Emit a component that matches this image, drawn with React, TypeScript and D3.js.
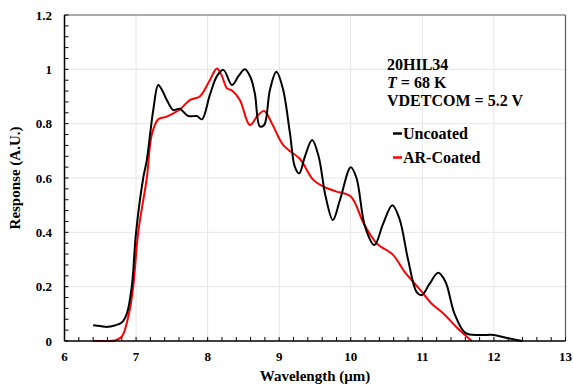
import React from "react";
import * as d3 from "d3";

const xTicks = [6, 7, 8, 9, 10, 11, 12, 13];
const yTicks = [0, 0.2, 0.4, 0.6, 0.8, 1, 1.2];

const uncoated: [number, number][] = [
  [6.4, 0.058], [6.5, 0.055], [6.6, 0.052], [6.7, 0.057], [6.8, 0.068], [6.87, 0.1],
  [6.94, 0.2], [7.0, 0.4], [7.1, 0.6], [7.15, 0.666], [7.24, 0.85], [7.31, 0.942],
  [7.37, 0.92], [7.43, 0.887], [7.52, 0.85], [7.61, 0.855], [7.73, 0.828], [7.85, 0.828],
  [7.92, 0.816], [8.03, 0.905], [8.13, 0.975], [8.22, 0.998], [8.34, 0.942], [8.43, 0.975],
  [8.52, 1.0], [8.6, 0.97], [8.66, 0.91], [8.73, 0.79], [8.79, 0.795], [8.87, 0.924],
  [8.96, 0.991], [9.05, 0.93], [9.15, 0.765], [9.22, 0.64], [9.28, 0.617], [9.36, 0.68],
  [9.46, 0.74], [9.55, 0.68], [9.65, 0.53], [9.75, 0.445], [9.85, 0.52], [10.0, 0.64],
  [10.08, 0.6], [10.2, 0.42], [10.33, 0.353], [10.45, 0.43], [10.58, 0.5], [10.68, 0.45],
  [10.8, 0.3], [10.92, 0.18], [10.99, 0.169], [11.1, 0.21], [11.22, 0.251], [11.32, 0.22],
  [11.45, 0.1], [11.6, 0.03], [11.8, 0.022], [12.0, 0.022], [12.2, 0.01], [12.4, 0.0],
];

const arCoated: [number, number][] = [
  [6.4, 0], [6.6, 0], [6.7, 0.002], [6.8, 0.016], [6.9, 0.1], [6.96, 0.2], [7.03, 0.4],
  [7.15, 0.6], [7.22, 0.76], [7.31, 0.816], [7.43, 0.826], [7.61, 0.852], [7.75, 0.887],
  [7.89, 0.9], [8.03, 0.96], [8.13, 1.003], [8.2, 0.975], [8.27, 0.93], [8.34, 0.922],
  [8.45, 0.887], [8.59, 0.795], [8.7, 0.83], [8.79, 0.847], [8.9, 0.8], [9.06, 0.72],
  [9.29, 0.67], [9.47, 0.595], [9.62, 0.568], [9.8, 0.55], [10.0, 0.532], [10.18, 0.433],
  [10.36, 0.36], [10.59, 0.317], [10.75, 0.255], [10.97, 0.188], [11.12, 0.14],
  [11.29, 0.102], [11.5, 0.045], [11.69, 0.0],
];

const W = 573;
const H = 385;
const M = { left: 64.5, right: 565.5, top: 15, bottom: 341 };
const font = "'Liberation Serif', 'Times New Roman', serif";

export default function App() {
  const x = d3.scaleLinear().domain([6, 13]).range([M.left, M.right]);
  const y = d3.scaleLinear().domain([0, 1.2]).range([M.bottom, M.top]);
  const line = d3
    .line<[number, number]>()
    .x((d) => x(d[0]))
    .y((d) => y(d[1]))
    .curve(d3.curveCatmullRom.alpha(0.5));

  const xMinor = d3.range(6, 13.0001, 0.2);
  const yMinor = d3.range(0, 1.20001, 0.04);

  return (
    <svg
      width={W}
      height={H}
      style={{ position: "absolute", left: 0, top: 0, background: "#fff" }}
      fontFamily={font}
      fontWeight="bold"
    >
      <rect x={0} y={0} width={W} height={H} fill="#fff" />
      {xTicks.slice(1, -1).map((t) => (
        <line key={"gx" + t} x1={x(t)} x2={x(t)} y1={M.top} y2={M.bottom} stroke="#e6e6e6" strokeWidth={1} />
      ))}
      {yTicks.slice(1, -1).map((t) => (
        <line key={"gy" + t} x1={M.left} x2={M.right} y1={y(t)} y2={y(t)} stroke="#e6e6e6" strokeWidth={1} />
      ))}
      <path d={line(arCoated) || ""} fill="none" stroke="#ff0000" strokeWidth={2} />
      <path d={line(uncoated) || ""} fill="none" stroke="#000" strokeWidth={2} />
      {/* frame */}
      <line x1={M.left} x2={M.right} y1={M.top} y2={M.top} stroke="#595959" strokeWidth={1.2} />
      <line x1={M.right} x2={M.right} y1={M.top} y2={M.bottom} stroke="#595959" strokeWidth={1.2} />
      <line x1={M.left} x2={M.right} y1={M.bottom} y2={M.bottom} stroke="#000" strokeWidth={1.5} />
      <line x1={M.left} x2={M.left} y1={M.top} y2={M.bottom} stroke="#000" strokeWidth={1.5} />
      {xMinor.map((t, i) => (
        <line key={"xm" + i} x1={x(t)} x2={x(t)} y1={M.bottom} y2={M.bottom - 4} stroke="#000" strokeWidth={1} />
      ))}
      {yMinor.map((t, i) => (
        <line key={"ym" + i} x1={M.left} x2={M.left + 4} y1={y(t)} y2={y(t)} stroke="#000" strokeWidth={1} />
      ))}
      {xTicks.map((t) => (
        <text key={"xt" + t} x={x(t)} y={361} fontSize={13} textAnchor="middle" fill="#000">
          {t}
        </text>
      ))}
      {yTicks.map((t) => (
        <text key={"yt" + t} x={52} y={y(t) + 4.5} fontSize={13} textAnchor="end" fill="#000">
          {String(t)}
        </text>
      ))}
      <text x={(M.left + M.right) / 2} y={381} fontSize={15} textAnchor="middle" fill="#000">
        Wavelength (μm)
      </text>
      <text
        transform={`translate(20,${(M.top + M.bottom) / 2}) rotate(-90)`}
        fontSize={15}
        textAnchor="middle"
        fill="#000"
      >
        Response (A.U.)
      </text>
      <g fontSize={16} fill="#000">
        <text x={387} y={70}>20HIL34</text>
        <text x={387} y={88}>
          <tspan fontStyle="italic">T</tspan> = 68 K
        </text>
        <text x={387} y={106}>VDETCOM = 5.2 V</text>
      </g>
      <line x1={393} x2={402} y1={133.5} y2={133.5} stroke="#000" strokeWidth={2.5} />
      <text x={403} y={138.5} fontSize={16} fill="#000">Uncoated</text>
      <line x1={393} x2={402} y1={157.5} y2={157.5} stroke="#ff0000" strokeWidth={2.5} />
      <text x={403} y={162.5} fontSize={16} fill="#000">AR-Coated</text>
    </svg>
  );
}
